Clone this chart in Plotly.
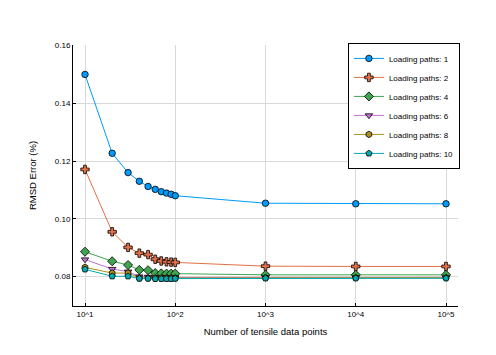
import plotly.graph_objects as go

n_points = [10, 20, 30, 40, 50, 60, 70, 80, 90, 100, 1000, 10000, 100000]

rmsd_1 = [0.1500, 0.1227, 0.1160, 0.1130, 0.1112, 0.1102, 0.1094, 0.1089, 0.1085, 0.1080, 0.1054, 0.1052, 0.1052]
rmsd_2 = [0.1171, 0.0955, 0.0901, 0.0881, 0.0876, 0.0860, 0.0854, 0.0851, 0.0850, 0.0849, 0.0836, 0.0835, 0.0835]
rmsd_4 = [0.0886, 0.0853, 0.0840, 0.0823, 0.0822, 0.0812, 0.0811, 0.0810, 0.0810, 0.0810, 0.0806, 0.0806, 0.0806]
rmsd_6 = [0.0859, 0.0826, 0.0817, 0.0800, 0.0799, 0.0797, 0.0797, 0.0797, 0.0797, 0.0797, 0.0797, 0.0797, 0.0797]
rmsd_8 = [0.0832, 0.0812, 0.0812, 0.0795, 0.0795, 0.0795, 0.0795, 0.0795, 0.0795, 0.0795, 0.0796, 0.0796, 0.0796]
rmsd_10 = [0.0825, 0.0801, 0.0801, 0.0793, 0.0793, 0.0792, 0.0792, 0.0792, 0.0792, 0.0793, 0.0794, 0.0794, 0.0794]

series = [
    ("Loading paths: 1", rmsd_1, "#009AFA", "circle", 6.5),
    ("Loading paths: 2", rmsd_2, "#E36F47", "cross", 7),
    ("Loading paths: 4", rmsd_4, "#3EA44E", "diamond", 7),
    ("Loading paths: 6", rmsd_6, "#C371D2", "triangle-down", 6.5),
    ("Loading paths: 8", rmsd_8, "#AC8E18", "hexagon", 6.5),
    ("Loading paths: 10", rmsd_10, "#00AAAE", "pentagon", 6.5),
]

fig = go.Figure()
for name, y, col, sym, sz in series:
    fig.add_trace(go.Scatter(
        x=n_points, y=y, name=name, mode="lines+markers",
        line=dict(color=col, width=1),
        marker=dict(symbol=sym, size=sz, color=col, line=dict(color="black", width=0.8)),
    ))

# page body has an 8px margin, so the figure is a bit smaller than the window
fig.update_layout(
    width=488, height=347,
    margin=dict(l=65, r=38, t=37, b=49),
    plot_bgcolor="white", paper_bgcolor="white",
    font=dict(family="Liberation Sans, Arial, sans-serif", size=8, color="black"),
    showlegend=True,
    legend=dict(
        x=1.005, xanchor="right", y=1.008, yanchor="top",
        bordercolor="black", borderwidth=1, bgcolor="white",
        font=dict(size=8), tracegroupgap=0, itemwidth=30,
    ),
)

fig.update_xaxes(
    type="log", range=[0.867, 5.133],
    tickvals=[10, 100, 1000, 10000, 100000],
    ticktext=["10^1", "10^2", "10^3", "10^4", "10^5"],
    showgrid=True, gridcolor="#d9d9d9", gridwidth=1,
    showline=True, linecolor="black", linewidth=1,
    ticks="inside", ticklen=3, tickcolor="black",
    zeroline=False, automargin=False,
    title=dict(text="Number of tensile data points", font=dict(size=9.5), standoff=10),
)
fig.update_yaxes(
    range=[0.0698, 0.1602],
    tickvals=[0.08, 0.10, 0.12, 0.14, 0.16],
    ticktext=["0.08", "0.10", "0.12", "0.14", "0.16"],
    showgrid=True, gridcolor="#d9d9d9", gridwidth=1,
    showline=True, linecolor="black", linewidth=1,
    ticks="inside", ticklen=3, tickcolor="black",
    zeroline=False, automargin=False,
    title=dict(text="RMSD Error (%)", font=dict(size=9.5), standoff=16),
)

fig.write_html("out.html")
